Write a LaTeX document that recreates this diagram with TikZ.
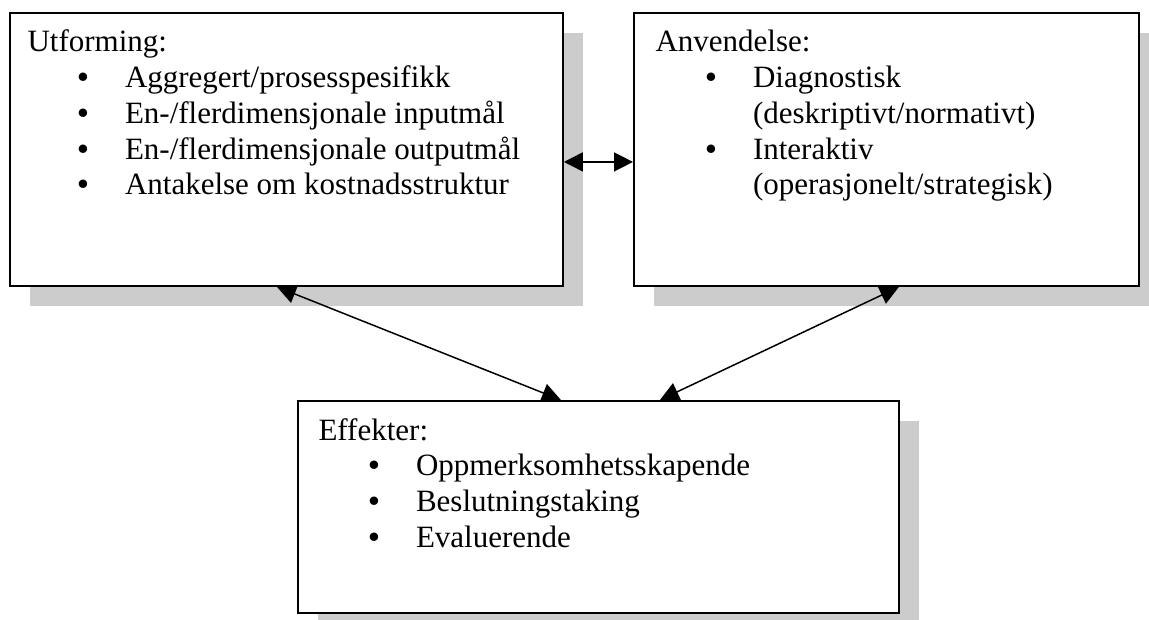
\documentclass[tikz,border=0pt]{standalone}
\usepackage{fontspec}
\setmainfont{Liberation Serif}
\usetikzlibrary{arrows.meta,calc,shadows}

\definecolor{skyggegraa}{HTML}{CCCCCC}

\newcommand{\punkt}{\hspace*{20pt}\makebox[19pt][l]{\textbf{\textbullet}}}
\newcommand{\innrykk}{\hspace*{39pt}}

\begin{document}
\begin{tikzpicture}[x=0.4pt, y=-0.4pt, >={Triangle[length=7.6pt,width=7.6pt]},
  boks/.style={draw, line width=0.75pt, fill=white, inner sep=0pt, anchor=north west,
    drop shadow={shadow xshift=8pt, shadow yshift=-8pt, fill=skyggegraa, draw=none, opacity=1}},
  tekst/.style={anchor=base west, inner sep=0pt, font=\fontsize{12.4}{14.3}\selectfont},
  pil/.style={<->, line width=0.6pt}]

\useasboundingbox (0,0) rectangle (1149,620);

% boksene
\node[boks, minimum width=221.2pt, minimum height=109.2pt] (utforming) at (9,12) {};
\node[boks, minimum width=202pt, minimum height=109.2pt] (anvendelse) at (633,12) {};
\node[boks, minimum width=240.4pt, minimum height=84.8pt] (effekter) at (297,400) {};

% tekst i boksene
\node[tekst] (utfTekst) at ($(utforming.north west)+(18,40)$) {\begin{tabular}[t]{@{}l@{}}
  Utforming:\\
  \punkt Aggregert/prosesspesifikk\\
  \punkt En-/flerdimensjonale inputmål\\
  \punkt En-/flerdimensjonale outputmål\\
  \punkt Antakelse om kostnadsstruktur\end{tabular}};
\node[tekst] (anvTekst) at ($(anvendelse.north west)+(22,40)$) {\begin{tabular}[t]{@{}l@{}}
  Anvendelse:\\
  \punkt Diagnostisk\\
  \innrykk(deskriptivt/normativt)\\
  \punkt Interaktiv\\
  \innrykk(operasjonelt/strategisk)\end{tabular}};
\node[tekst] (effTekst) at ($(effekter.north west)+(21,40)$) {\begin{tabular}[t]{@{}l@{}}
  Effekter:\\
  \punkt Oppmerksomhetsskapende\\
  \punkt Beslutningstaking\\
  \punkt Evaluerende\end{tabular}};

% pilene
\draw[pil] ($(utforming.east)+(0,12.5)$) -- ($(anvendelse.west)+(0,12.5)$);
\draw[pil] ($(utforming.south)+(-9.5,0)$) -- ($(effekter.north)+(-37.5,0)$);
\draw[pil] ($(anvendelse.south)+(12.5,0)$) -- ($(effekter.north)+(61.5,0)$);

\end{tikzpicture}
\end{document}
